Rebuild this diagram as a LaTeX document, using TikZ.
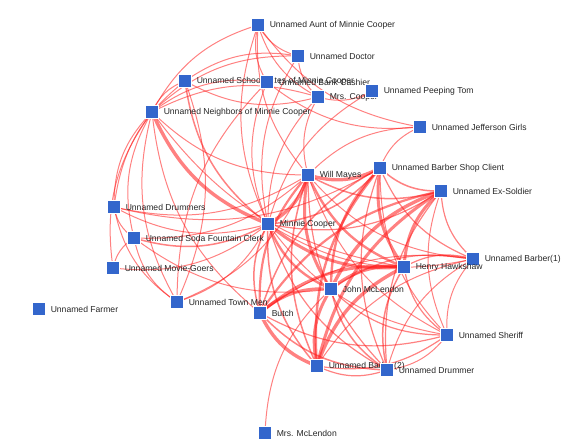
\documentclass[tikz,border=0pt]{standalone}
\usepackage{fontspec}
\setmainfont{Liberation Sans}
\usetikzlibrary{backgrounds}
\definecolor{nodeblue}{HTML}{3366CC}
\definecolor{linkred}{HTML}{FF1A1A}

\begin{document}
\begin{tikzpicture}[x=1pt, y=-1pt,
      char/.style={rectangle, fill=nodeblue, draw=white, line width=0.6pt,
                   minimum size=12.5pt, inner sep=0pt,
                   label={right:#1}},
      every label/.style={font=\fontsize{8.6}{10}\selectfont, text=black!85,
                   inner sep=1pt},
      label distance=4pt,
      link/.style={draw=linkred, draw opacity=0.55, bend right=22}
    ]
    \useasboundingbox (0,0) rectangle (588,445);

    % outer characters
    \node[char={Unnamed Aunt of Minnie Cooper}]        (aunt)      at (258, 25) {};
    \node[char={Unnamed Doctor}]                       (doctor)    at (298, 56) {};
    \node[char={Unnamed Schoolmates of Minnie Cooper}] (school)    at (185, 81) {};
    \node[char={Unnamed Bank Cashier}]                 (cashier)   at (267, 82) {};
    \node[char={Mrs. Cooper}]                          (mrscooper) at (318, 97) {};
    \node[char={Unnamed Peeping Tom}]                  (peeping)   at (372, 91) {};
    \node[char={Unnamed Jefferson Girls}]              (jefferson) at (420,127) {};
    \node[char={Unnamed Neighbors of Minnie Cooper}]   (neighbors) at (152,112) {};
    \node[char={Unnamed Drummers}]                     (drummers)  at (114,207) {};
    \node[char={Unnamed Soda Fountain Clerk}]          (soda)      at (134,238) {};
    \node[char={Unnamed Movie-Goers}]                  (movie)     at (113,268) {};
    \node[char={Unnamed Town Men}]                     (townmen)   at (177,302) {};
    \node[char={Unnamed Farmer}]                       (farmer)    at ( 39,309) {};
    \node[char={Mrs. McLendon}]                        (mrsmcl)    at (265,433) {};

    % inner characters
    \node[char={Minnie Cooper}]                (minnie)    at (268,224) {};
    \node[char={Will Mayes}]                   (will)      at (308,175) {};
    \node[char={Unnamed Barber Shop Client}]   (client)    at (380,168) {};
    \node[char={Unnamed Ex-Soldier}]           (exsoldier) at (441,191) {};
    \node[char={Unnamed Barber(1)}]            (barberA)   at (473,259) {};
    \node[char={Henry Hawkshaw}]               (hawkshaw)  at (404,267) {};
    \node[char={John McLendon}]                (mclendon)  at (331,289) {};
    \node[char={Butch}]                        (butch)     at (260,313) {};
    \node[char={Unnamed Sheriff}]              (sheriff)   at (447,335) {};
    \node[char={Unnamed Barber(2)}]            (barberB)   at (317,366) {};
    \node[char={Unnamed Drummer}]              (drummer)   at (387,370) {};

    \begin{scope}[on background layer]
    \foreach \a/\b/\w in {
        aunt/neighbors/1.0, aunt/doctor/1.0, aunt/minnie/1.0, aunt/mrscooper/1.0,
        aunt/jefferson/1.0, aunt/cashier/1.0, aunt/will/1.0,
        doctor/neighbors/1.0, doctor/minnie/1.0, doctor/mrscooper/1.0, doctor/school/1.0,
        school/neighbors/1.0, school/minnie/1.5, school/mrscooper/1.0, school/drummers/1.0,
        cashier/neighbors/1.0, cashier/minnie/1.0, cashier/townmen/1.0, cashier/jefferson/1.0,
        mrscooper/neighbors/1.0, mrscooper/minnie/1.0, mrscooper/will/1.0, mrscooper/peeping/1.0,
        peeping/minnie/1.0, jefferson/will/1.0, jefferson/client/1.0,
        neighbors/drummers/1.0, neighbors/soda/1.0, neighbors/movie/1.0, neighbors/townmen/1.0,
        neighbors/minnie/3.4, neighbors/will/1.0, neighbors/butch/1.0, neighbors/hawkshaw/1.0,
        drummers/soda/1.0, drummers/minnie/1.0, drummers/will/1.0, drummers/townmen/1.0,
        drummers/client/1.0,
        soda/minnie/1.5, soda/movie/1.0, soda/will/1.0, soda/townmen/1.0, soda/mclendon/1.0,
        movie/minnie/1.0, townmen/minnie/1.0, townmen/will/1.0, townmen/school/1.0,
        minnie/will/3.4, minnie/butch/1.5, minnie/mclendon/2.4, minnie/hawkshaw/3.0,
        minnie/client/1.5, minnie/exsoldier/1.2, minnie/barberB/1.5, minnie/drummer/1.2,
        minnie/sheriff/1.0, minnie/barberA/1.0,
        will/client/3.4, will/exsoldier/1.5, will/hawkshaw/2.4, will/mclendon/3.0,
        will/butch/2.2, will/barberB/1.5, will/drummer/1.2, will/sheriff/1.0, will/barberA/1.0,
        client/exsoldier/1.5, client/hawkshaw/3.0, client/mclendon/2.4, client/butch/1.5,
        client/barberB/2.4, client/drummer/1.2, client/barberA/1.2, client/sheriff/1.0,
        exsoldier/hawkshaw/3.0, exsoldier/mclendon/3.4, exsoldier/butch/2.2,
        exsoldier/barberB/3.0, exsoldier/barberA/1.2, exsoldier/sheriff/1.0, exsoldier/drummer/1.2,
        barberA/hawkshaw/1.2, barberA/mclendon/1.2, barberA/sheriff/1.0, barberA/barberB/1.0,
        barberA/drummer/1.0, barberA/butch/1.0,
        hawkshaw/mclendon/3.4, hawkshaw/butch/3.0, hawkshaw/barberB/3.4, hawkshaw/drummer/1.5,
        hawkshaw/sheriff/1.2,
        mclendon/butch/3.0, mclendon/barberB/3.0, mclendon/drummer/1.5, mclendon/sheriff/1.2,
        mclendon/mrsmcl/1.0,
        butch/barberB/3.4, butch/drummer/1.5, butch/sheriff/1.2,
        barberB/drummer/1.2, barberB/sheriff/1.2, drummer/sheriff/1.0}
      \draw[link, line width=\w pt] (\a.center) to (\b.center);
    \end{scope}
  \end{tikzpicture}
\end{document}
